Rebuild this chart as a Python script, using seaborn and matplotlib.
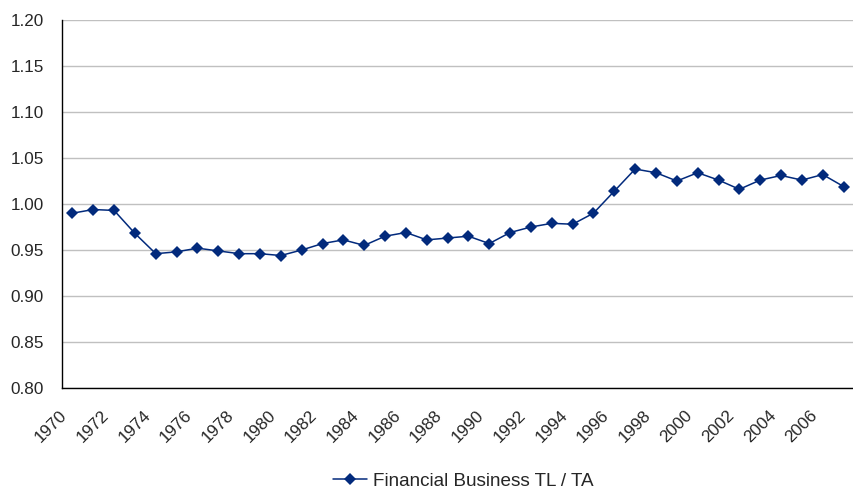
import matplotlib
matplotlib.use("Agg")
import matplotlib.pyplot as plt
import numpy as np
import pandas as pd
import seaborn as sns

# Financial business total liabilities / total assets, 1970-2007
years = list(range(1970, 2008))
tl_ta = [0.990, 0.994, 0.993, 0.968, 0.946, 0.948, 0.952, 0.949, 0.946, 0.946,
         0.944, 0.950, 0.957, 0.961, 0.955, 0.965, 0.969, 0.961, 0.963, 0.965,
         0.957, 0.969, 0.975, 0.979, 0.978, 0.990, 1.014, 1.038, 1.034, 1.025,
         1.034, 1.026, 1.016, 1.026, 1.031, 1.026, 1.032, 1.019]
series_name = "Financial Business TL / TA"
y_ticks = [0.80, 0.85, 0.90, 0.95, 1.00, 1.05, 1.10, 1.15, 1.20]

df = pd.DataFrame({"idx": np.arange(len(years)), "year": years, "value": tl_ta})

sns.set_style("white")
plt.rcParams["font.family"] = ["Liberation Sans", "DejaVu Sans"]

W, H = 854, 491
fig = plt.figure(figsize=(W / 100, H / 100), dpi=100)
ax = fig.add_axes([62 / W, 1 - 388 / H, 1 - 62 / W, (388 - 20) / H])

line_color = "#022a7c"
sns.lineplot(data=df, x="idx", y="value", ax=ax, color=line_color, lw=1.1,
             marker="D", markersize=5.8, markeredgewidth=0, label=series_name)

ax.set_ylim(0.80, 1.20)
ax.set_xlim(-0.5, 37.15)
ax.set_yticks(y_ticks)
ax.set_yticklabels([f"{v:.2f}" for v in y_ticks], fontsize=12.3)
ax.yaxis.grid(True, color="#c0c0c0", lw=1)
ax.set_axisbelow(True)

# ticks at category boundaries, labels every other year (Excel-style offset)
ax.set_xticks(np.arange(-0.5, len(years), 1.0), minor=True)
ax.set_xticks(df["idx"][::2] - 0.36)
ax.set_xticklabels([str(y) for y in years[::2]], fontsize=12.3, rotation=45,
                   ha="right", va="center", rotation_mode="anchor")
ax.tick_params(axis="x", which="major", length=0, pad=18)
ax.tick_params(axis="x", which="minor", length=5, width=1, color="black", direction="out")
ax.tick_params(axis="y", length=5, width=1, color="black", direction="out", pad=8)

for s in ["top", "right"]:
    ax.spines[s].set_visible(False)
for s in ["left", "bottom"]:
    ax.spines[s].set_color("black")
    ax.spines[s].set_linewidth(1)

ax.set_xlabel("")
ax.set_ylabel("")
ax.legend_.remove()
handles, labels = ax.get_legend_handles_labels()
fig.legend(handles, labels, loc="center", bbox_to_anchor=(463 / W, 1 - 481 / H),
           frameon=False, fontsize=13.6, handlelength=1.8, handletextpad=0.3)

fig.savefig("out.png", dpi=100)
